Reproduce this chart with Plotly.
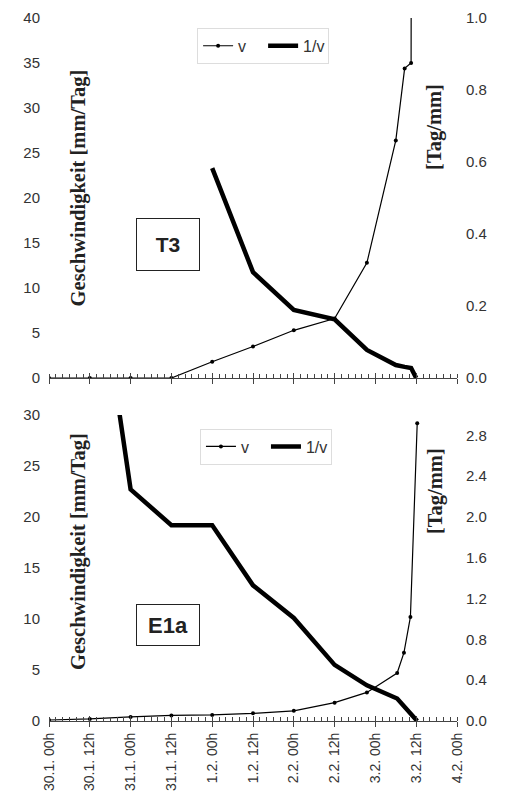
import plotly.graph_objects as go

# ---------------- data ----------------
tick_hours = [0, 12, 24, 36, 48, 60, 72, 84, 96, 108, 120]
tick_labels = ["30.1. 00h", "30.1. 12h", "31.1. 00h", "31.1. 12h", "1.2. 00h",
               "1.2. 12h", "2.2. 00h", "2.2. 12h", "3.2. 00h", "3.2. 12h", "4.2. 00h"]

# panel T3
t3_v_hours = [0, 12, 24, 36, 48, 60, 72, 84, 93.5, 102, 104.6, 106.5, 108]
t3_v = [0, 0, 0, 0, 1.8, 3.5, 5.3, 6.6, 12.8, 26.4, 34.4, 35.0, 500]
t3_inv_hours = [48, 60, 72, 84, 93.5, 102, 104.6, 106.5, 108]
t3_inv = [0.583, 0.294, 0.189, 0.163, 0.078, 0.036, 0.031, 0.028, 0.0]

# panel E1a
e1_v_hours = [0, 12, 24, 36, 48, 60, 72, 84, 93.5, 102.4, 104.4, 106.3, 108.3]
e1_v = [0.1, 0.2, 0.4, 0.55, 0.6, 0.75, 1.0, 1.8, 2.8, 4.7, 6.7, 10.2, 29.2]
e1_inv_hours = [12, 24, 36, 48, 60, 72, 84, 93.5, 102.4, 104.4, 106.3, 108.3]
e1_inv = [5.0, 2.27, 1.92, 1.92, 1.33, 1.01, 0.55, 0.35, 0.22, 0.15, 0.08, 0.0]

panel_labels = ["T3", "E1a"]
left_title = "Geschwindigkeit [mm/Tag]"
right_title = "[Tag/mm]"
series_names = ["v", "1/v"]

# ---------------- styles ----------------
SANS = "Liberation Sans, Arial, sans-serif"
SERIF = "Liberation Serif, Times New Roman, serif"
TXT = "#333333"

fig = go.Figure()

thin = dict(color="black", width=1.2)
thick = dict(color="black", width=4.5)
mk = dict(color="black", size=4)

fig.add_trace(go.Scatter(x=t3_v_hours, y=t3_v, xaxis="x", yaxis="y", mode="lines+markers",
                         line=thin, marker=mk, name=series_names[0], legend="legend"))
fig.add_trace(go.Scatter(x=t3_inv_hours, y=t3_inv, xaxis="x", yaxis="y2", mode="lines",
                         line=thick, name=series_names[1], legend="legend"))
fig.add_trace(go.Scatter(x=e1_v_hours, y=e1_v, xaxis="x2", yaxis="y3", mode="lines+markers",
                         line=thin, marker=mk, name=series_names[0], legend="legend2"))
fig.add_trace(go.Scatter(x=e1_inv_hours, y=e1_inv, xaxis="x2", yaxis="y4", mode="lines",
                         line=thick, name=series_names[1], legend="legend2"))
# helper traces for the crossing major ticks
fig.add_trace(go.Scatter(x=[], y=[], xaxis="x3", yaxis="y", showlegend=False))
fig.add_trace(go.Scatter(x=[], y=[], xaxis="x4", yaxis="y3", showlegend=False))

top_dom = [0.4879, 1.0]
bot_dom = [0.0, 0.4353]
xr = [0, 120]

def xax(anchor, labels, overlay=None, inside=False):
    d = dict(domain=[0, 1], anchor=anchor, range=xr, tickvals=tick_hours, automargin=False,
             showgrid=False, zeroline=False, showline=True, linecolor="#444", linewidth=1,
             ticks="inside" if inside else "outside", ticklen=5, tickcolor="#444")
    if overlay:
        d.update(overlaying=overlay, showticklabels=False, showline=False)
    else:
        d.update(minor=dict(ticks="inside", dtick=2, tick0=0, ticklen=4, tickcolor="#444", showgrid=False))
        if labels:
            d.update(ticktext=tick_labels, tickangle=-90,
                     tickfont=dict(family=SANS, size=14, color=TXT))
        else:
            d.update(showticklabels=False)
    return d

def yax(dom, rng, dtick, overlay=None, fmt=None):
    d = dict(range=rng, dtick=dtick, tick0=0, showgrid=False, zeroline=False, showline=False,
             automargin=False, ticks="", tickfont=dict(family=SANS, size=15, color=TXT),
             ticklabelstandoff=8)
    if overlay:
        d.update(overlaying=overlay, side="right")
    else:
        d.update(domain=dom)
    if fmt:
        d.update(tickformat=fmt)
    return d

fig.update_layout(
    width=506, height=797,
    margin=dict(l=49, r=49, t=18, b=76, autoexpand=False),
    paper_bgcolor="white", plot_bgcolor="white",
    showlegend=True,
    xaxis=xax("y", False),
    xaxis2=xax("y3", True),
    xaxis3=xax("y", False, overlay="x", inside=True),
    xaxis4=xax("y3", False, overlay="x2", inside=True),
    yaxis=dict(yax(top_dom, [0, 40], 5), anchor="x"),
    yaxis2=dict(yax(top_dom, [0, 1.0], 0.2, overlay="y", fmt=".1f"), anchor="x"),
    yaxis3=dict(yax(bot_dom, [0, 30], 5), anchor="x2"),
    yaxis4=dict(yax(bot_dom, [0, 3.0], 0.4, overlay="y3", fmt=".1f"), anchor="x2"),
    legend=dict(orientation="h", x=0.363, y=0.986, xanchor="left", yanchor="top",
                font=dict(family=SANS, size=16, color=TXT), bgcolor="rgba(255,255,255,0)",
                bordercolor="#dddddd", borderwidth=1, entrywidth=20, entrywidthmode="pixels"),
    legend2=dict(orientation="h", x=0.37, y=0.416, xanchor="left", yanchor="top",
                 font=dict(family=SANS, size=16, color=TXT), bgcolor="rgba(255,255,255,0)",
                 bordercolor="#dddddd", borderwidth=1, entrywidth=20, entrywidthmode="pixels"),
)

annos = []
for yc in (0.759, 0.2418):
    annos.append(dict(text="<b>" + left_title + "</b>", xref="paper", yref="paper",
                      x=0.071, y=yc, textangle=-90, showarrow=False,
                      xanchor="center", yanchor="middle",
                      font=dict(family=SERIF, size=20.5, color="#222")))
for yc in (0.845, 0.327):
    annos.append(dict(text="<b>" + right_title + "</b>", xref="paper", yref="paper",
                      x=0.946, y=yc, textangle=-90, showarrow=False,
                      xanchor="center", yanchor="middle",
                      font=dict(family=SERIF, size=20.5, color="#222")))
annos.append(dict(text="<b>" + panel_labels[0] + "</b>", xref="paper", yref="paper",
                  x=0.2917, y=0.6785, xanchor="center", yanchor="middle",
                  showarrow=False, width=56, height=45,
                  bordercolor="#222", borderwidth=1, borderpad=3, bgcolor="white",
                  font=dict(family=SANS, size=21, color="#222")))
annos.append(dict(text="<b>" + panel_labels[1] + "</b>", xref="paper", yref="paper",
                  x=0.2917, y=0.1366, xanchor="center", yanchor="middle",
                  showarrow=False, width=56, height=34,
                  bordercolor="#222", borderwidth=1, borderpad=3, bgcolor="white",
                  font=dict(family=SANS, size=22, color="#222")))
fig.update_layout(annotations=annos)

fig.write_html("out.html", config={"displayModeBar": False},
               post_script="document.body.style.margin='0';document.body.style.overflow='hidden';")
